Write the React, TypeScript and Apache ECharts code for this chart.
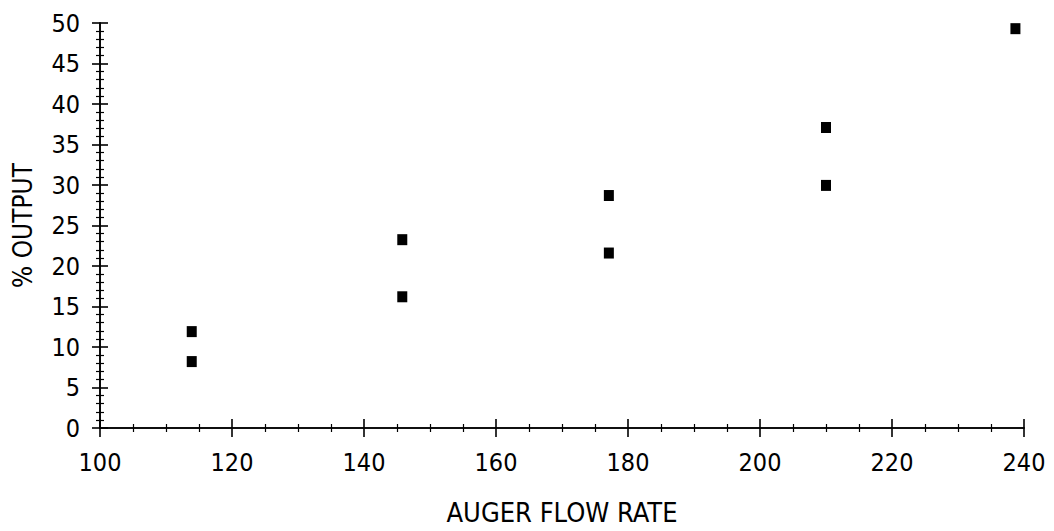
import React, { useEffect, useRef } from "react";
import * as echarts from "echarts";

const xValues = [113.9, 113.9, 145.8, 145.8, 177.1, 177.1, 210.0, 210.0, 238.7];
const yValues = [11.9, 8.2, 23.25, 16.2, 28.7, 21.6, 37.1, 29.95, 49.3];
const xTicks = { min: 100, max: 240, interval: 20, minorSplit: 4 };
const yTicks = { min: 0, max: 50, interval: 5, minorSplit: 5 };
const xTitle = "AUGER FLOW RATE";
const yTitle = "% OUTPUT";

const FONT = "'DejaVu Sans Condensed', 'Liberation Sans', sans-serif";
const INK = "#000";

export default function App() {
  const ref = useRef<HTMLDivElement>(null);
  useEffect(() => {
    if (!ref.current) return;
    const chart = echarts.init(ref.current, null, { renderer: "svg" });
    const points = xValues.map((x, i) => [x, yValues[i]]);
    const gridRect = {
      left: 100,
      right: 30,
      top: 23,
      bottom: 103,
      containLabel: false,
      outerBoundsMode: "none",
    };
    const baseX = {
      type: "value",
      min: xTicks.min,
      max: xTicks.max,
      interval: xTicks.interval,
      position: "bottom",
      splitLine: { show: false },
    };
    const baseY = {
      type: "value",
      min: yTicks.min,
      max: yTicks.max,
      interval: yTicks.interval,
      position: "left",
      splitLine: { show: false },
    };
    const line = { show: true, onZero: false, lineStyle: { color: INK, width: 1.6 } };
    const majorTick = (inside: boolean, length: number) => ({
      show: true,
      inside,
      length,
      lineStyle: { color: INK, width: 1.6 },
    });
    const minor = (split: number) => ({
      show: true,
      splitNumber: split,
      length: 4,
      lineStyle: { color: INK, width: 1.2 },
    });
    chart.setOption({
      animation: false,
      backgroundColor: "#fff",
      grid: [gridRect, gridRect],
      xAxis: [
        {
          ...baseX,
          gridIndex: 0,
          name: xTitle,
          nameLocation: "middle",
          nameGap: 71,
          nameTextStyle: { fontFamily: FONT, fontSize: 27, color: INK },
          axisLine: line,
          axisTick: majorTick(false, 9),
          minorTick: minor(xTicks.minorSplit),
          axisLabel: { fontFamily: FONT, fontSize: 25, color: INK, margin: 22 },
        },
        {
          ...baseX,
          gridIndex: 1,
          axisLine: line,
          axisTick: majorTick(true, 9),
          minorTick: minor(xTicks.minorSplit),
          axisLabel: { show: false },
        },
      ],
      yAxis: [
        {
          ...baseY,
          gridIndex: 0,
          name: yTitle,
          nameLocation: "middle",
          nameGap: 64,
          nameRotate: 90,
          nameTextStyle: { fontFamily: FONT, fontSize: 26, color: INK },
          axisLine: line,
          axisTick: majorTick(false, 8),
          minorTick: minor(yTicks.minorSplit),
          axisLabel: { fontFamily: FONT, fontSize: 25, color: INK, margin: 20 },
        },
        {
          ...baseY,
          gridIndex: 1,
          axisLine: line,
          axisTick: majorTick(true, 8),
          minorTick: minor(yTicks.minorSplit),
          axisLabel: { show: false },
        },
      ],
      series: [
        {
          type: "scatter",
          xAxisIndex: 0,
          yAxisIndex: 0,
          data: points,
          symbol: "rect",
          symbolSize: [10, 11],
          itemStyle: { color: INK, opacity: 1 },
        },
        {
          type: "scatter",
          xAxisIndex: 1,
          yAxisIndex: 1,
          data: [],
        },
      ],
    });
    return () => chart.dispose();
  }, []);
  return (
    <div
      ref={ref}
      style={{ position: "fixed", left: 0, top: 0, width: 1054, height: 531, background: "#fff" }}
    />
  );
}
